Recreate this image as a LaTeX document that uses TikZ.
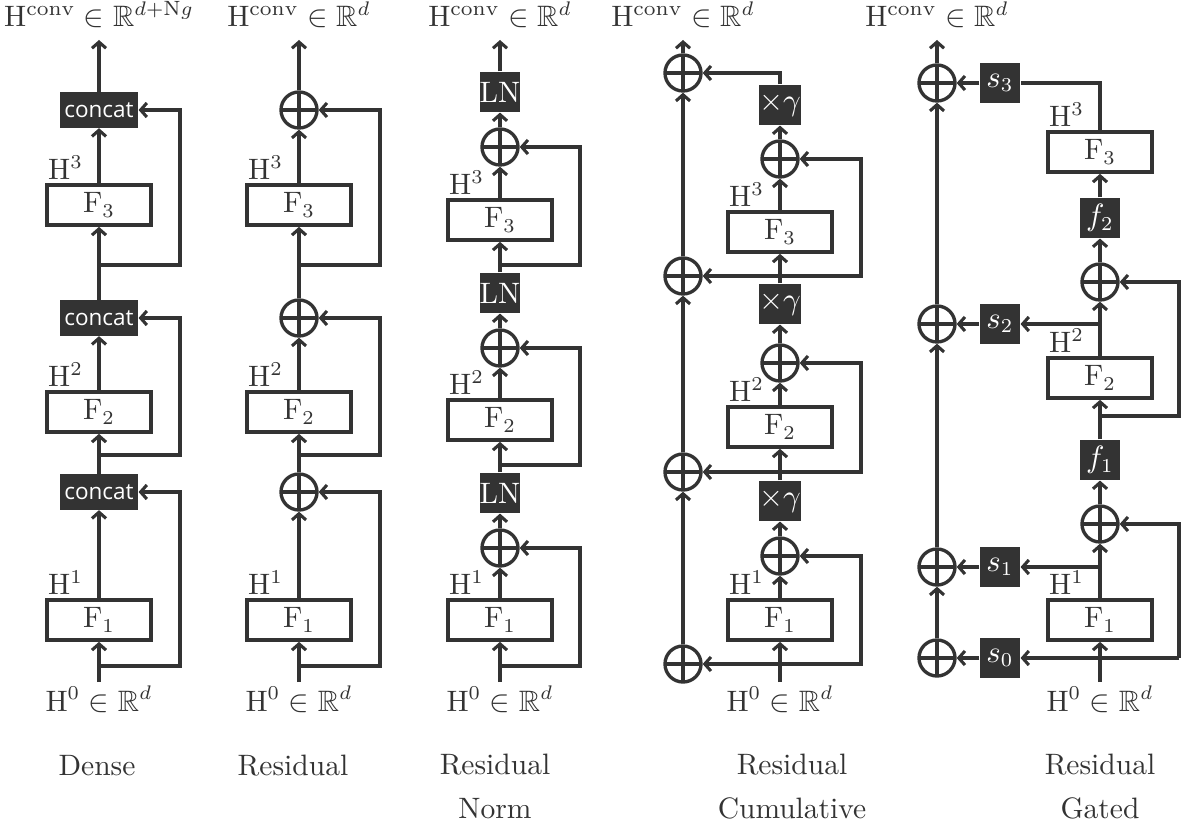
\documentclass[tikz,border=0pt]{standalone}
\usepackage{amsmath,amssymb}
\usepackage{fontspec}
\newfontfamily\osans{Open Sans}
\usetikzlibrary{arrows.meta}
\definecolor{ink}{RGB}{51,51,51}
\begin{document}
\begin{tikzpicture}[x=0.0125cm,y=-0.0125cm,
  font=\fontsize{10.5}{12.6}\selectfont,
  every node/.style={text=ink},
  conn/.style={draw=ink,line width=1.1pt},
  arr/.style={conn,-{Straight Barb[length=2.2pt,width=5pt,line width=1.1pt]}},
  fbox/.style={draw=ink,fill=white,line width=1.3pt,minimum width=1.3cm,minimum height=0.5cm,inner sep=0pt},
  dbox/.style={fill=ink,text=white,minimum width=0.5cm,minimum height=0.5cm,inner sep=0pt},
  cbox/.style={fill=ink,text=white,minimum width=0.975cm,minimum height=0.44cm,inner sep=0pt,font=\osans\fontsize{8}{9}\selectfont},
  oplus/.style={circle,draw=ink,line width=1.2pt,minimum size=0.45cm,inner sep=0pt,
    path picture={\draw[ink,line width=1.2pt] (path picture bounding box.north) -- (path picture bounding box.south) (path picture bounding box.west) -- (path picture bounding box.east);}},
  hl/.style={anchor=base east,inner sep=0pt},
  lab/.style={anchor=base,inner sep=0pt},
  ttl/.style={anchor=base,inner sep=0pt,align=center,font=\fontsize{10.5}{15.3}\selectfont},
]
\useasboundingbox (0,0) rectangle (1181,825);

% ================= Dense =================
\node[lab] (d-out) at (99,27) {$\mathrm{H}^{\mathrm{conv}} \in \mathbb{R}^{d+\mathrm{N}g}$};
\coordinate (d-top) at (99,40);
\node[cbox] (d-c3) at (99,110) {concat};
\node[fbox] (d-F3) at (99,205) {$\mathrm{F}_3$};
\coordinate (d-j3) at (99,265);
\node[cbox] (d-c2) at (99,318) {concat};
\node[fbox] (d-F2) at (99,412) {$\mathrm{F}_2$};
\coordinate (d-j2) at (99,455);
\node[cbox] (d-c1) at (99,492) {concat};
\node[fbox] (d-F1) at (99,620) {$\mathrm{F}_1$};
\coordinate (d-j1) at (99,666);
\coordinate (d-in) at (99,682);
\coordinate (d-sk) at (180,0);
\node[hl] at ([xshift=-5.5pt,yshift=1.3pt]d-F3.north) {$\mathrm{H}^3$};
\node[hl] at ([xshift=-5.5pt,yshift=1.3pt]d-F2.north) {$\mathrm{H}^2$};
\node[hl] at ([xshift=-5.5pt,yshift=1.3pt]d-F1.north) {$\mathrm{H}^1$};
\node[lab] (d-inl) at (99,711) {$\mathrm{H}^0 \in \mathbb{R}^d$};
\node[ttl] (d-t) at (97,775) {Dense};
\draw[arr] (d-in) -- (d-F1.south);
\draw[arr] (d-F1.north) -- (d-c1.south);
\draw[arr] (d-c1.north) -- (d-F2.south);
\draw[arr] (d-F2.north) -- (d-c2.south);
\draw[arr] (d-c2.north) -- (d-F3.south);
\draw[arr] (d-F3.north) -- (d-c3.south);
\draw[arr] (d-c3.north) -- (d-top);
\draw[arr] (d-j1) -| (d-j1 -| d-sk) |- (d-c1.east);
\draw[arr] (d-j2) -| (d-j2 -| d-sk) |- (d-c2.east);
\draw[arr] (d-j3) -| (d-j3 -| d-sk) |- (d-c3.east);

% ================= Residual =================
\node[lab] (r-out) at (299,27) {$\mathrm{H}^{\mathrm{conv}} \in \mathbb{R}^{d}$};
\coordinate (r-top) at (299,40);
\node[oplus] (r-o3) at (299,110) {};
\node[fbox] (r-F3) at (299,205) {$\mathrm{F}_3$};
\coordinate (r-j3) at (299,265);
\node[oplus] (r-o2) at (299,318) {};
\node[fbox] (r-F2) at (299,412) {$\mathrm{F}_2$};
\coordinate (r-j2) at (299,455);
\node[oplus] (r-o1) at (299,492) {};
\node[fbox] (r-F1) at (299,620) {$\mathrm{F}_1$};
\coordinate (r-j1) at (299,666);
\coordinate (r-in) at (299,682);
\coordinate (r-sk) at (380,0);
\node[hl] at ([xshift=-5.5pt,yshift=1.3pt]r-F3.north) {$\mathrm{H}^3$};
\node[hl] at ([xshift=-5.5pt,yshift=1.3pt]r-F2.north) {$\mathrm{H}^2$};
\node[hl] at ([xshift=-5.5pt,yshift=1.3pt]r-F1.north) {$\mathrm{H}^1$};
\node[lab] (r-inl) at (299,711) {$\mathrm{H}^0 \in \mathbb{R}^d$};
\node[ttl] (r-t) at (293,775) {Residual};
\draw[arr] (r-in) -- (r-F1.south);
\draw[arr] (r-F1.north) -- (r-o1.south);
\draw[arr] (r-o1.north) -- (r-F2.south);
\draw[arr] (r-F2.north) -- (r-o2.south);
\draw[arr] (r-o2.north) -- (r-F3.south);
\draw[arr] (r-F3.north) -- (r-o3.south);
\draw[arr] (r-o3.north) -- (r-top);
\draw[arr] (r-j1) -| (r-j1 -| r-sk) |- (r-o1.east);
\draw[arr] (r-j2) -| (r-j2 -| r-sk) |- (r-o2.east);
\draw[arr] (r-j3) -| (r-j3 -| r-sk) |- (r-o3.east);

% ================= Residual Norm =================
\node[lab] (n-out) at (500,27) {$\mathrm{H}^{\mathrm{conv}} \in \mathbb{R}^{d}$};
\coordinate (n-top) at (500,40);
\node[dbox] (n-L1) at (500,92) {$\mathrm{LN}$};
\node[oplus] (n-o3) at (500,147) {};
\node[fbox] (n-F3) at (500,220) {$\mathrm{F}_3$};
\coordinate (n-j3) at (500,265);
\node[dbox] (n-L2) at (500,293) {$\mathrm{LN}$};
\node[oplus] (n-o2) at (500,348) {};
\node[fbox] (n-F2) at (500,420) {$\mathrm{F}_2$};
\coordinate (n-j2) at (500,465);
\node[dbox] (n-L3) at (500,493) {$\mathrm{LN}$};
\node[oplus] (n-o1) at (500,548) {};
\node[fbox] (n-F1) at (500,620) {$\mathrm{F}_1$};
\coordinate (n-j1) at (500,666);
\coordinate (n-in) at (500,682);
\coordinate (n-sk) at (580,0);
\node[hl] at ([xshift=-5.5pt,yshift=1.3pt]n-F3.north) {$\mathrm{H}^3$};
\node[hl] at ([xshift=-5.5pt,yshift=1.3pt]n-F2.north) {$\mathrm{H}^2$};
\node[hl] at ([xshift=-5.5pt,yshift=1.3pt]n-F1.north) {$\mathrm{H}^1$};
\node[lab] (n-inl) at (500,711) {$\mathrm{H}^0 \in \mathbb{R}^d$};
\node[ttl] (n-t) at (495,818) {Residual\\Norm};
\draw[arr] (n-in) -- (n-F1.south);
\draw[arr] (n-F1.north) -- (n-o1.south);
\draw[arr] (n-o1.north) -- (n-L3.south);
\draw[arr] (n-L3.north) -- (n-F2.south);
\draw[arr] (n-F2.north) -- (n-o2.south);
\draw[arr] (n-o2.north) -- (n-L2.south);
\draw[arr] (n-L2.north) -- (n-F3.south);
\draw[arr] (n-F3.north) -- (n-o3.south);
\draw[arr] (n-o3.north) -- (n-L1.south);
\draw[arr] (n-L1.north) -- (n-top);
\draw[arr] (n-j1) -| (n-j1 -| n-sk) |- (n-o1.east);
\draw[arr] (n-j2) -| (n-j2 -| n-sk) |- (n-o2.east);
\draw[arr] (n-j3) -| (n-j3 -| n-sk) |- (n-o3.east);

% ================= Residual Cumulative =================
\node[lab] (c-out) at (683,27) {$\mathrm{H}^{\mathrm{conv}} \in \mathbb{R}^{d}$};
\coordinate (c-top) at (683,40);
\node[oplus] (c-L3) at (683,73) {};
\node[oplus] (c-L2) at (683,276) {};
\node[oplus] (c-L1) at (683,472) {};
\node[oplus] (c-L0) at (683,664) {};
\node[dbox] (c-g3) at (780,105) {$\times\gamma$};
\node[oplus] (c-o3) at (780,159) {};
\node[fbox] (c-F3) at (780,232) {$\mathrm{F}_3$};
\coordinate (c-j2) at (780,276);
\node[dbox] (c-g2) at (780,304) {$\times\gamma$};
\node[oplus] (c-o2) at (780,363) {};
\node[fbox] (c-F2) at (780,427) {$\mathrm{F}_2$};
\coordinate (c-j1) at (780,472);
\node[dbox] (c-g1) at (780,501) {$\times\gamma$};
\node[oplus] (c-o1) at (780,556) {};
\node[fbox] (c-F1) at (780,620) {$\mathrm{F}_1$};
\coordinate (c-j0) at (780,664);
\coordinate (c-in) at (780,682);
\coordinate (c-sk) at (861,0);
\coordinate (c-tc) at (780,73);
\node[hl] at ([xshift=-5.5pt,yshift=1.3pt]c-F3.north) {$\mathrm{H}^3$};
\node[hl] at ([xshift=-5.5pt,yshift=1.3pt]c-F2.north) {$\mathrm{H}^2$};
\node[hl] at ([xshift=-5.5pt,yshift=1.3pt]c-F1.north) {$\mathrm{H}^1$};
\node[lab] (c-inl) at (780,711) {$\mathrm{H}^0 \in \mathbb{R}^d$};
\node[ttl] (c-t) at (792,818) {Residual\\Cumulative};
\draw[arr] (c-in) -- (c-F1.south);
\draw[arr] (c-F1.north) -- (c-o1.south);
\draw[arr] (c-o1.north) -- (c-g1.south);
\draw[arr] (c-g1.north) -- (c-F2.south);
\draw[arr] (c-F2.north) -- (c-o2.south);
\draw[arr] (c-o2.north) -- (c-g2.south);
\draw[arr] (c-g2.north) -- (c-F3.south);
\draw[arr] (c-F3.north) -- (c-o3.south);
\draw[arr] (c-o3.north) -- (c-g3.south);
\draw[arr] (c-g3.north) -- (c-tc) -- (c-L3.east);
\draw[arr] (c-L0.north) -- (c-L1.south);
\draw[arr] (c-L1.north) -- (c-L2.south);
\draw[arr] (c-L2.north) -- (c-L3.south);
\draw[arr] (c-L3.north) -- (c-top);
\draw[arr] (c-j0) -- (c-L0.east);
\draw[arr] (c-j1) -- (c-L1.east);
\draw[arr] (c-j2) -- (c-L2.east);
\draw[arr] (c-j0) -| (c-j0 -| c-sk) |- (c-o1.east);
\draw[arr] (c-j1) -| (c-j1 -| c-sk) |- (c-o2.east);
\draw[arr] (c-j2) -| (c-j2 -| c-sk) |- (c-o3.east);

% ================= Residual Gated =================
\node[lab] (g-out) at (937,27) {$\mathrm{H}^{\mathrm{conv}} \in \mathbb{R}^{d}$};
\coordinate (g-top) at (937,40);
\node[oplus] (g-L3) at (937,83) {};
\node[oplus] (g-L2) at (937,324) {};
\node[oplus] (g-L1) at (937,567) {};
\node[oplus] (g-L0) at (937,658) {};
\node[dbox] (g-s3) at (1000,83) {$s_3$};
\node[dbox] (g-s2) at (1000,324) {$s_2$};
\node[dbox] (g-s1) at (1000,567) {$s_1$};
\node[dbox] (g-s0) at (1000,658) {$s_0$};
\coordinate (g-tc) at (1100,83);
\node[fbox] (g-F3) at (1100,152) {$\mathrm{F}_3$};
\node[dbox] (g-f2) at (1100,218) {$f_2$};
\node[oplus] (g-o2) at (1100,282) {};
\coordinate (g-j2) at (1100,324);
\node[fbox] (g-F2) at (1100,378) {$\mathrm{F}_2$};
\coordinate (g-jr) at (1100,416);
\node[dbox] (g-f1) at (1100,460) {$f_1$};
\node[oplus] (g-o1) at (1100,524) {};
\coordinate (g-j1) at (1100,567);
\node[fbox] (g-F1) at (1100,620) {$\mathrm{F}_1$};
\coordinate (g-j0) at (1100,658);
\coordinate (g-in) at (1100,682);
\coordinate (g-sk) at (1179,0);
\coordinate (g-r0) at (1179,658);
\node[hl] at ([xshift=-5.5pt,yshift=1.3pt]g-F3.north) {$\mathrm{H}^3$};
\node[hl] at ([xshift=-5.5pt,yshift=1.3pt]g-F2.north) {$\mathrm{H}^2$};
\node[hl] at ([xshift=-5.5pt,yshift=1.3pt]g-F1.north) {$\mathrm{H}^1$};
\node[lab] (g-inl) at (1100,711) {$\mathrm{H}^0 \in \mathbb{R}^d$};
\node[ttl] (g-t) at (1100,818) {Residual\\Gated};
\draw[arr] (g-in) -- (g-F1.south);
\draw[arr] (g-F1.north) -- (g-o1.south);
\draw[arr] (g-o1.north) -- (g-f1.south);
\draw[arr] (g-f1.north) -- (g-F2.south);
\draw[arr] (g-F2.north) -- (g-o2.south);
\draw[arr] (g-o2.north) -- (g-f2.south);
\draw[arr] (g-f2.north) -- (g-F3.south);
\draw[conn] (g-F3.north) -- (g-tc) -- (g-s3.east);
\draw[arr] (g-s3.west) -- (g-L3.east);
\draw[arr] (g-j2) -- (g-s2.east);
\draw[arr] (g-s2.west) -- (g-L2.east);
\draw[arr] (g-j1) -- (g-s1.east);
\draw[arr] (g-s1.west) -- (g-L1.east);
\draw[arr] (g-r0) -- (g-s0.east);
\draw[arr] (g-s0.west) -- (g-L0.east);
\draw[arr] (g-r0) |- (g-o1.east);
\draw[arr] (g-jr) -| (g-jr -| g-sk) |- (g-o2.east);
\draw[arr] (g-L0.north) -- (g-L1.south);
\draw[arr] (g-L1.north) -- (g-L2.south);
\draw[arr] (g-L2.north) -- (g-L3.south);
\draw[arr] (g-L3.north) -- (g-top);
\end{tikzpicture}
\end{document}
